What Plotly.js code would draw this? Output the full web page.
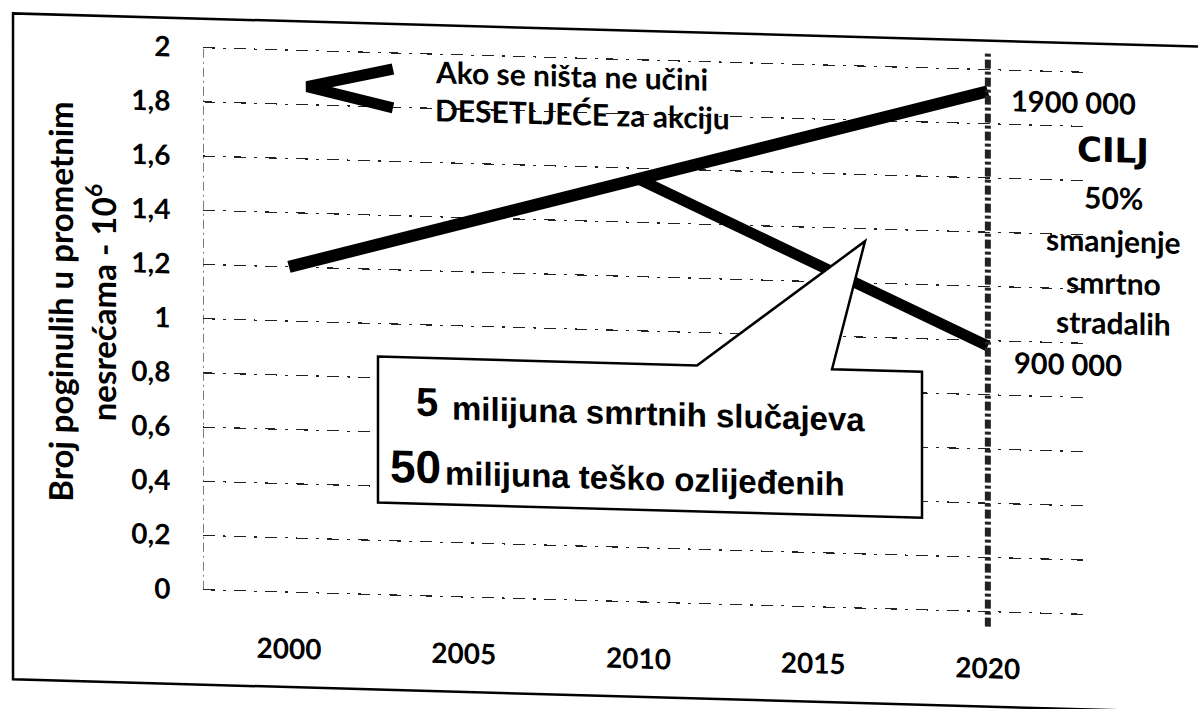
<!DOCTYPE html>
<html>
<head>
<meta charset="utf-8">
<script src="https://cdn.plot.ly/plotly-3.0.1.min.js"></script>
<style>
  html, body { margin: 0; padding: 0; background: #fff; overflow: hidden; }
  #chart { width: 1202px; height: 709px; transform: skewY(1.6deg); transform-origin: 0 0; }
</style>
</head>
<body>
<div id="chart"></div>
<script>
// ---- data ----
const years = [2000, 2010, 2020];
const noAction = [1.2, 1.56, 1.92];
const targetYears = [2010, 2020];
const target = [1.56, 0.98];
const xTickVals = [2000, 2005, 2010, 2015, 2020];
const xTickText = ['2000', '2005', '2010', '2015', '2020'];
const yTickVals = [0, 0.2, 0.4, 0.6, 0.8, 1, 1.2, 1.4, 1.6, 1.8, 2];
const yTickText = ['0', '0,2', '0,4', '0,6', '0,8', '1', '1,2', '1,4', '1,6', '1,8', '2'];
const noActionLabel = '1900 000';
const targetLabel = '900 000';
const yTitleLines = ['Broj poginulih u prometnim', 'nesrećama - 10<sup>6</sup>'];
const headLines = ['Ako se ništa ne učini', 'DESETLJEĆE za akciju'];
const goalLines = ['CILJ', '50%', 'smanjenje', 'smrtno', 'stradalih'];
const calloutNums = ['5', '50'];
const calloutTexts = ['milijuna smrtnih slučajeva', 'milijuna teško ozlijeđenih'];

// ---- layout helpers (pixel -> paper) ----
const L = 203, T = 39, W = 882, H = 548;
const px = x => (x - L) / W;
const py = y => (T + H - y) / H;
const P = (x, y) => px(x).toFixed(4) + ',' + py(y).toFixed(4);

const FONT = 'Lato, "Open Sans", sans-serif';
const ARIAL = '"Liberation Sans", Arial, sans-serif';

const traces = [
  { x: years, y: noAction, mode: 'lines', line: { color: '#000', width: 12 }, hoverinfo: 'skip' },
  { x: targetYears, y: target, mode: 'lines', line: { color: '#000', width: 11 }, hoverinfo: 'skip' }
];

const shapes = [
  // outer frame (scan border)
  { type: 'path', xref: 'paper', yref: 'paper',
    path: 'M' + P(1198, 13) + ' L' + P(13, 13) + ' L' + P(13, 679) + ' L' + P(1198, 679),
    line: { color: '#000', width: 2.5 } },
  // y axis dashed line
  { type: 'line', xref: 'x', yref: 'y', x0: 1997.54, x1: 1997.54, y0: 0, y1: 2,
    line: { color: '#222', width: 1.2, dash: '9px,4px,2px,4px' } },
  // vertical bar at 2020
  { type: 'line', xref: 'x', yref: 'paper', x0: xTickVals[4], x1: xTickVals[4], y0: -0.022, y1: 1.025,
    line: { color: '#222', width: 6, dash: '9px,3px,3px,3px' } },
  // chevron
  { type: 'path', xref: 'paper', yref: 'paper',
    path: 'M' + P(393, 58) + ' L' + P(307, 78) + ' L' + P(393, 97),
    line: { color: '#000', width: 11 } },
  // callout box with pointer
  { type: 'path', xref: 'paper', yref: 'paper', fillcolor: '#fff',
    path: 'M' + P(378, 346) + ' L' + P(697, 346) + ' L' + P(865, 217) + ' L' + P(832, 346) +
          ' L' + P(922, 346) + ' L' + P(922, 492) + ' L' + P(378, 492) + ' Z',
    line: { color: '#000', width: 2.5 } }
];

function ann(text, x, y, size, opts) {
  return Object.assign({
    text: text, xref: 'paper', yref: 'paper', x: px(x), y: py(y),
    xanchor: 'left', yanchor: 'middle', showarrow: false,
    font: { family: FONT, size: size, color: '#000', weight: 700 }
  }, opts || {});
}

const annotations = [
  // y axis title
  ann(yTitleLines.join('<br>'), 82, 300, 33, { textangle: -90, xanchor: 'center' }),
  // header text
  ann(headLines[0], 433, 59, 30),
  ann(headLines[1], 433, 97, 30),
  // end labels
  ann(noActionLabel, 1009, 71, 29),
  ann(targetLabel, 1012, 334, 29),
  // goal column
  ann(goalLines[0], 1113, 119, 34, { xanchor: 'center',
      font: { family: '"DejaVu Sans", sans-serif', size: 34, color: '#000', weight: 900 } }),
  ann(goalLines[1], 1113, 166, 30, { xanchor: 'center' }),
  ann(goalLines[2], 1113, 209, 30, { xanchor: 'center' }),
  ann(goalLines[3], 1113, 251, 30, { xanchor: 'center' }),
  ann(goalLines[4], 1113, 291, 30, { xanchor: 'center' }),
  // callout text
  ann(calloutNums[0], 414, 390, 40, { font: { family: ARIAL, size: 40, color: '#000', weight: 700 } }),
  ann(calloutTexts[0], 450, 395, 33, { font: { family: ARIAL, size: 33, color: '#000', weight: 700 } }),
  ann(calloutNums[1], 388, 455, 46, { font: { family: ARIAL, size: 46, color: '#000', weight: 700 } }),
  ann(calloutTexts[1], 443, 460, 33, { font: { family: ARIAL, size: 33, color: '#000', weight: 700 } })
];

const layout = {
  width: 1202, height: 709,
  margin: { l: L, r: 1202 - L - W, t: T, b: 709 - T - H },
  paper_bgcolor: '#fff', plot_bgcolor: '#fff',
  showlegend: false,
  font: { family: FONT, size: 26, color: '#000', weight: 700 },
  xaxis: {
    range: [1997.54, 2022.78],
    tickvals: xTickVals, ticktext: xTickText,
    showgrid: false, zeroline: false, showline: false,
    ticks: 'outside', ticklen: 29, tickcolor: 'rgba(0,0,0,0)',
    tickfont: { family: FONT, size: 28, color: '#000', weight: 700 },
    fixedrange: true
  },
  yaxis: {
    range: [-0.011, 2.011],
    tickvals: yTickVals, ticktext: yTickText,
    showgrid: true, gridcolor: '#222', gridwidth: 1.2, griddash: '12px,8px,3px,8px',
    zeroline: false, showline: false,
    ticks: 'outside', ticklen: 26, tickcolor: 'rgba(0,0,0,0)',
    tickfont: { family: FONT, size: 28, color: '#000', weight: 700 },
    fixedrange: true
  },
  shapes: shapes,
  annotations: annotations
};

Plotly.newPlot('chart', traces, layout, { displayModeBar: false, staticPlot: true });
</script>
</body>
</html>
